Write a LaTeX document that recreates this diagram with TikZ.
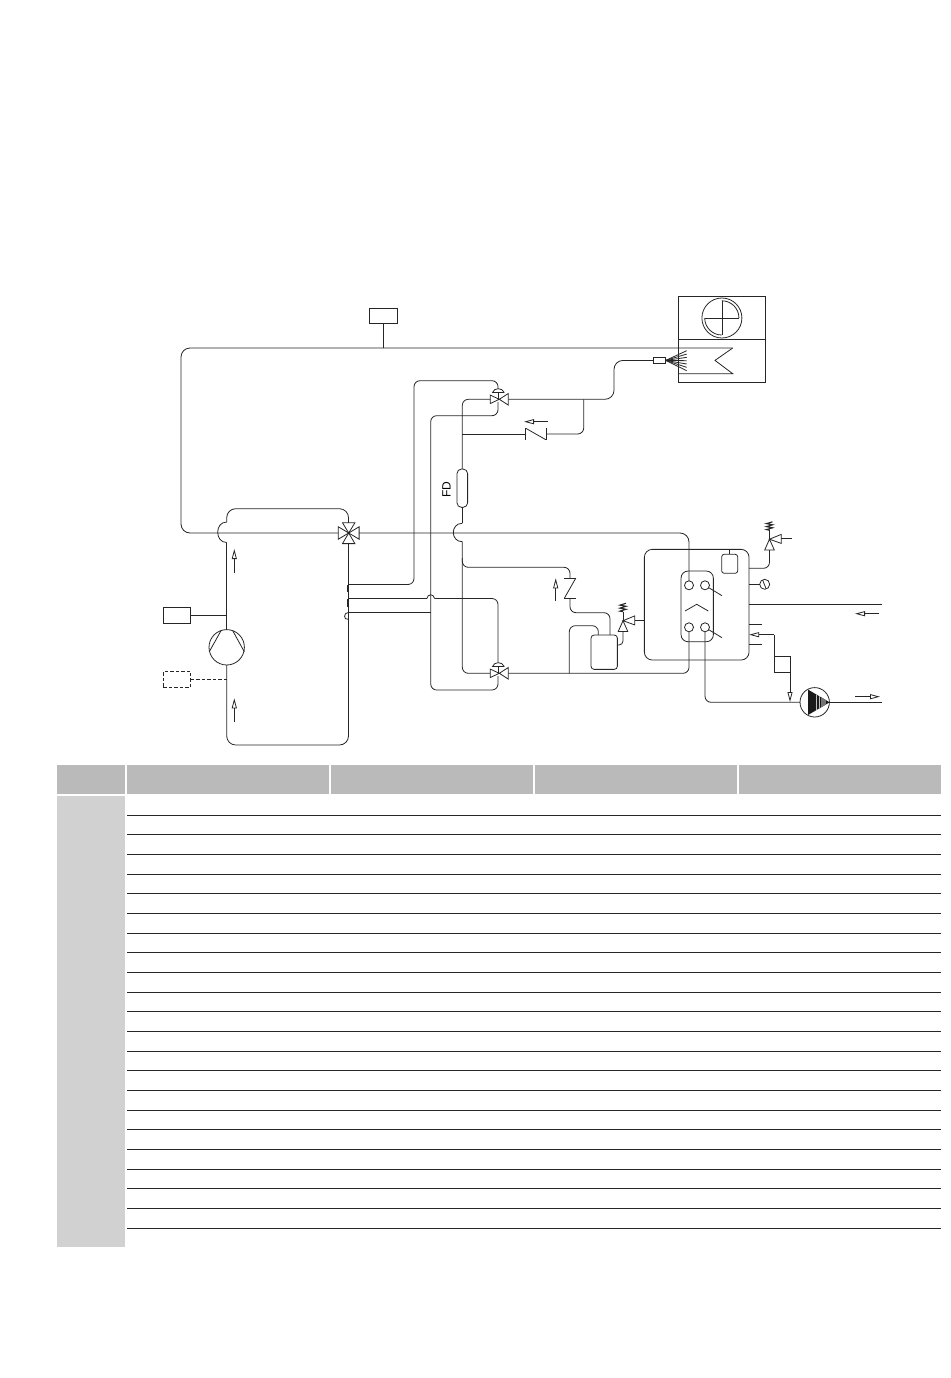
\documentclass[tikz,border=0pt]{standalone}
\usepackage{fontspec}
\setmainfont{Liberation Sans}
\usetikzlibrary{arrows.meta}
\tikzstyle{pipe} = [draw, line width=0.8pt, color=black!85, rounded corners=6pt]
\tikzstyle{bigpipe} = [pipe, rounded corners=9pt]
\tikzstyle{line} = [draw, line width=0.8pt, color=black!85]
\tikzstyle{dashline} = [line, dash pattern=on 3.5pt off 2pt]
\tikzstyle{flow} = [line, -{Triangle[open, length=10pt, width=5pt]}]
\tikzstyle{block} = [rectangle, draw, line width=0.8pt, color=black!85, inner sep=0pt, outer sep=0pt]
\tikzstyle{round} = [block, circle]
\tikzset{
  twoway/.pic = {
    \draw[line] (0,0) -- (-9,-4.2) -- (-9,4.2) -- cycle;
    \draw[line] (0,0) -- (9,-5.8) -- (9,5.8) -- cycle;
    \draw[line] (-1,0) -- (-1,-6.6);
    \draw[line] (-7,-6.6) -- (5,-6.6);
    \draw[line] (-7,-6.6) .. controls (-5,-12) and (3,-12) .. (5,-6.6);
  },
  fourway/.pic = {
    \draw[line] (0,0) -- (-10.4,-6.2) -- (-10.4,6.2) -- cycle;
    \draw[line] (0,0) -- (10.4,-6.2) -- (10.4,6.2) -- cycle;
    \draw[line] (0,0) -- (-6.2,-10.2) -- (6.2,-10.2) -- cycle;
    \draw[line] (0,0) -- (-6.2,10.6) -- (6.2,10.6) -- cycle;
  },
  checkv/.pic = {
    \draw[line] (-10.2,-5.8) -- (-10.2,5.8);
    \draw[line] (-10.2,-5.8) -- (10.2,5.8);
    \draw[line] (10.2,-5.8) -- (10.2,5.8);
  },
  relief/.pic = {
    \draw[line] (0,0) -- (-4.8,10.8) -- (4.8,10.8) -- cycle;
    \draw[line] (0,0) -- (11.7,-4.8) -- (11.7,4.2) -- cycle;
    \draw[line] (0,0) -- (0,-9);
    \draw[line, line width=1.1pt] (0,-9) -- (-3,-9.6) -- (3,-11.4) -- (-3,-12.6) -- (3,-14.4) -- (-3,-15.6) -- (3,-17.4);
  }
}

\begin{document}
\begin{tikzpicture}[x=1pt, y=-1pt]
\useasboundingbox (0,0) rectangle (950,1378);

%outdoor unit
\node [block, minimum width=86.3pt, minimum height=86pt] (fanunit) at (721.9,339) {};
\draw[line] (fanunit.west) -- (fanunit.east);
\node [round, minimum size=40pt] (fanout) at (721.9,318) {};
\node [circle, inner sep=0pt, minimum size=34pt] (fanin) at (721.9,318) {};
\draw[line] (fanin.north) -- (fanin.south);
\draw[line] (fanin.west) -- (fanin.east);
\draw[line] (fanin.north) arc[start angle=-90, end angle=0, radius=17];
\draw[line] (fanin.west) arc[start angle=180, end angle=90, radius=17];
\node [block, minimum width=12.4pt, minimum height=6.7pt] (dist) at (659.5,360.4) {};
\foreach \i in {0,...,6}
  \draw[line] (dist.east) -- (686.7,{350.7+\i*3.33});
\coordinate (coila) at (732.7,348);
\coordinate (coilb) at (715,360.4);
\coordinate (coilc) at (732.7,373.7);
\coordinate (coild) at (678.7,373.7);
\draw[line] (coila) -- (coilb) -- (coilc) -- (coild);

%top sensor and suction line
\node [block, minimum width=28pt, minimum height=15pt] (topbox) at (383,315.5) {};
\draw[line] (topbox) -- (topbox |- coila);
\coordinate (fourv) at (348.7,533);
\coordinate (fourw) at (338.3,533);
\coordinate (foure) at (359.1,533);
\coordinate (fourn) at (348.5,522.8);
\coordinate (fours) at (348.5,543.6);
\coordinate (leftb) at (181,533);
\coordinate (leftt) at (181,348);
\draw pic at (fourv) {fourway};
\draw[bigpipe] (fourw) -- (leftb) -- (leftt) -- (coila);

%compressor loop
\node [round, minimum size=35.4pt] (comp) at (226.7,647.3) {};
\coordinate (loopa) at (226.7,508.7);
\coordinate (loopb) at (226.7,745);
\coordinate (humpa) at (226.7,522);
\coordinate (humpb) at (226.7,542.5);
\draw[bigpipe] (fourn) |- (loopa) -- (humpa);
\draw[line] (humpa) .. controls +(-12,0) and +(-12,0) .. (humpb);
\draw[line] (humpb) -- (comp.north);
\draw[bigpipe] (comp.south) -- (loopb) -| (fours);
\draw[line] (221,630.7) -- (209.3,651.7);
\draw[line] (232.7,630.7) -- (244.3,651.7);
\node [block, minimum width=26.7pt, minimum height=16pt] (hpbox) at (176.7,615.5) {};
\draw[line] (hpbox) -- (hpbox -| comp);
\node [block, dashline, minimum width=27.4pt, minimum height=16pt] (lpbox) at (177,679.3) {};
\draw[dashline] (lpbox) -- (lpbox -| comp);
\coordinate (flowa) at (234.3,572.7);
\coordinate (flowb) at (234.3,549);
\coordinate (flowc) at (234.3,721.7);
\coordinate (flowd) at (234.3,698.3);
\draw[flow] (flowa) -- (flowb);
\draw[flow] (flowc) -- (flowd);

%tank side connections
\coordinate (tanka) at (348.3,584.5);
\coordinate (tankb) at (348.3,598.5);
\coordinate (tankc) at (348.3,612.5);
\coordinate (tankd) at (348.3,619.3);
\draw[line, line width=1.8pt] (347.8,585) -- (347.8,592.3);
\draw[line, line width=1.8pt] (347.8,599) -- (347.8,606.7);
\draw[line] (tankc) .. controls +(-5,0) and +(-5,1) .. (tankd);

%four way side and valves
\coordinate (vup) at (499.3,399.3);
\coordinate (vupl) at (490.3,399.3);
\coordinate (vupr) at (508.3,399.3);
\coordinate (vupt) at (498,388.5);
\coordinate (vupb) at (498,402);
\coordinate (vdn) at (499.3,673.3);
\coordinate (vdnl) at (490.3,673.3);
\coordinate (vdnr) at (508.3,673.3);
\coordinate (vdnt) at (498,662.5);
\coordinate (vdnb) at (498,676);
\draw pic at (vup) {twoway};
\draw pic at (vdn) {twoway};
\coordinate (upa) at (414,380.7);
\coordinate (upb) at (498,380.7);
\draw[pipe] (tanka) -| (upa) -- (upb) -- (vupt);
\coordinate (upc) at (498,415.7);
\coordinate (upd) at (430.7,415.7);
\coordinate (upe) at (430.7,690);
\coordinate (upf) at (498,690);
\draw[pipe] (vupb) -- (upc) -- (upd) -- (upe) -- (upf) -- (vdnb);
\coordinate (humpc) at (426.8,598.5);
\coordinate (humpd) at (434.6,598.5);
\coordinate (upg) at (498,598.5);
\draw[line] (tankb) -- (humpc);
\draw[line] (humpc) .. controls +(1,-5) and +(-1,-5) .. (humpd);
\draw[pipe] (humpd) -- (upg) -- (vdnt);
\draw[line] (tankc) -- (tankc -| upd);

%filter drier line
\node [block, rounded corners=4.5pt, minimum width=10.6pt, minimum height=38.3pt] (fd) at (462.3,488.2) {};
\node [rotate=90, font=\fontsize{12}{13}\selectfont, inner sep=0pt] (fdlabel) at (446.5,489.5) {FD};
\coordinate (fda) at (462.3,399.3);
\draw[pipe] (vupl) -- (fda) -- (fd.north);
\coordinate (humpe) at (462.3,523.3);
\coordinate (humpf) at (462.3,541.7);
\draw[line] (fd.south) -- (humpe);
\draw[line] (humpe) .. controls +(-12,0) and +(-12,0) .. (humpf);
\coordinate (fdb) at (462.3,673.3);
\draw[pipe] (humpf) -- (fdb) -- (vdnl);

%check valve to outdoor unit
\coordinate (chka) at (535.8,434);
\coordinate (chkl) at (525.6,434);
\coordinate (chkr) at (546,434);
\coordinate (chkt) at (462.3,434);
\coordinate (chku) at (583.7,434);
\coordinate (chkj) at (583.7,399.3);
\draw pic at (chka) {checkv};
\draw[line] (chkt) -- (chkl);
\draw[pipe] (chkr) -- (chku) -- (chkj);
\coordinate (outa) at (614,399.3);
\coordinate (outb) at (614,360.4);
\draw[bigpipe] (vupr) -- (outa) -- (outb) -- (dist.west);
\coordinate (flowe) at (547.7,421.7);
\coordinate (flowf) at (524,421.7);
\draw[flow] (flowe) -- (flowf);

%receiver branch
\coordinate (brka) at (462.3,558);
\coordinate (brkb) at (462.3,567.3);
\coordinate (brkc) at (570,567.3);
\coordinate (chkb) at (570,588.3);
\coordinate (chkbt) at (570,578.1);
\coordinate (chkbb) at (570,598.5);
\draw pic [rotate=90] at (chkb) {checkv};
\draw[pipe] (brka) -- (brkb) -- (brkc) -- (chkbt);
\node [block, rounded corners=3pt, minimum width=26.3pt, minimum height=34.3pt] (recv) at (604.2,652.2) {};
\coordinate (recva) at (570,612.7);
\coordinate (recvb) at (610,612.7);
\coordinate (recvc) at (610,635);
\draw[pipe] (chkbb) -- (recva) -- (recvb) -- (recvc);
\coordinate (recvd) at (598.3,635);
\coordinate (recve) at (598.3,625.7);
\coordinate (recvf) at (569.3,625.7);
\coordinate (recvg) at (569.3,673.3);
\draw[pipe] (recvd) -- (recve) -- (recvf) -- (recvg);
\coordinate (flowg) at (555.7,600.7);
\coordinate (flowh) at (555.7,578.3);
\draw[flow] (flowg) -- (flowh);

%water box and plate exchanger
\node [block, rounded corners=8pt, minimum width=104.7pt, minimum height=110.7pt] (cond) at (696.7,604.7) {};
\node [block, rounded corners=7pt, minimum width=32.3pt, minimum height=70.7pt] (plate) at (697.2,606.4) {};
\node [round, minimum size=9pt] (hxa) at (689,585.3) {};
\node [round, minimum size=9pt] (hxb) at (705,585.3) {};
\node [round, minimum size=9pt] (hxc) at (689,627.3) {};
\node [round, minimum size=9pt] (hxd) at (705,627.3) {};
\coordinate (plataa) at (685,611);
\coordinate (platab) at (696.7,604.3);
\coordinate (platac) at (708.3,611);
\draw[line] (plataa) -- (platab) -- (platac);
\coordinate (ticka) at (722,595.7);
\coordinate (tickb) at (722,637.7);
\draw[line] (hxb.center) ++(3.8,2.4) -- (ticka);
\draw[line] (hxd.center) ++(3.8,2.4) -- (tickb);
\draw[bigpipe] (foure) -| (hxa);
\draw[pipe] (hxc) |- (vdnr);

%relief valves
\coordinate (rvl) at (623,620.7);
\coordinate (rvlb) at (623,631.5);
\coordinate (rvlr) at (634.7,620.5);
\coordinate (rvr) at (769.5,539.2);
\coordinate (rvrb) at (769.5,550);
\coordinate (rvrr) at (781.2,538.5);
\draw pic at (rvl) {relief};
\draw pic at (rvr) {relief};
\draw[pipe, rounded corners=4pt] (recv.east |- 0,645) -| (rvlb);
\draw[line] (rvlr) -- (rvlr -| cond.west);
\coordinate (rvra) at (749.1,568.3);
\coordinate (rvrin) at (791.7,538.5);
\draw[pipe] (rvra) -| (rvrb);
\draw[line] (rvrr) -- (rvrin);

%expansion and gauge
\node [block, rounded corners=2.5pt, minimum width=16pt, minimum height=19pt] (exptank) at (729.7,563.8) {};
\draw[line] (exptank) -- (exptank |- cond.north);
\node [round, minimum size=10pt] (gauge) at (764.7,584.3) {};
\draw[line] (gauge) -- (gauge -| cond.east);
\draw[line] (762.6,580) -- (766,588.5);

%water pipes right
\coordinate (inleta) at (749.1,604.3);
\coordinate (inletb) at (881.7,604.3);
\draw[line] (inleta) -- (inletb);
\coordinate (flowi) at (879.3,613.7);
\coordinate (flowj) at (855,613.7);
\draw[flow] (flowi) -- (flowj);
\coordinate (stuba) at (749.1,624.7);
\coordinate (stubb) at (761.7,624.7);
\coordinate (stubc) at (749.1,644.7);
\coordinate (stubd) at (761.7,644.7);
\draw[line] (stuba) -- (stubb);
\draw[line] (stubc) -- (stubd);

%pump
\node [round, minimum size=29.4pt] (pump) at (814.7,702.3) {};
\begin{scope}
\clip (807.7,689.4) -- (829.6,702.3) -- (807.7,715.2) -- cycle;
\fill[black!90] (807.7,689) rectangle (830,716);
\fill[black!55] (820.6,689) rectangle (826.4,716);
\draw[black!25, line width=0.7pt] (816.6,689) -- (816.6,716);
\draw[black!25, line width=0.7pt] (819.6,689) -- (819.6,716);
\end{scope}
\draw[pipe] (hxd) |- (pump);
\coordinate (pumpout) at (881.7,702.3);
\draw[line] (pump.east) -- (pumpout);
\coordinate (flowk) at (855,696.7);
\coordinate (flowl) at (880,696.7);
\draw[flow] (flowk) -- (flowl);

%flow switch
\node [block, minimum width=16pt, minimum height=16.3pt] (swbox) at (782,664.2) {};
\coordinate (swa) at (774,634.7);
\coordinate (swb) at (749.1,634.7);
\coordinate (swc) at (790,702);
\draw[line] (swbox.south west) -- (swa);
\draw[flow] (swa) -- (swb);
\draw[flow] (swbox.south east) -- (swc);

%table
\foreach \a/\b in {57.3/125,127/329,331/533,535/737,739/941}
  \fill[black!27] (\a,765) rectangle (\b,794);
\fill[black!18] (57.3,796) rectangle (125,1247.3);
\foreach \i in {0,...,21}
  \draw[line, line width=1pt] (127,{815.3+\i*19.667}) -- (941,{815.3+\i*19.667});
\end{tikzpicture}
\end{document}
